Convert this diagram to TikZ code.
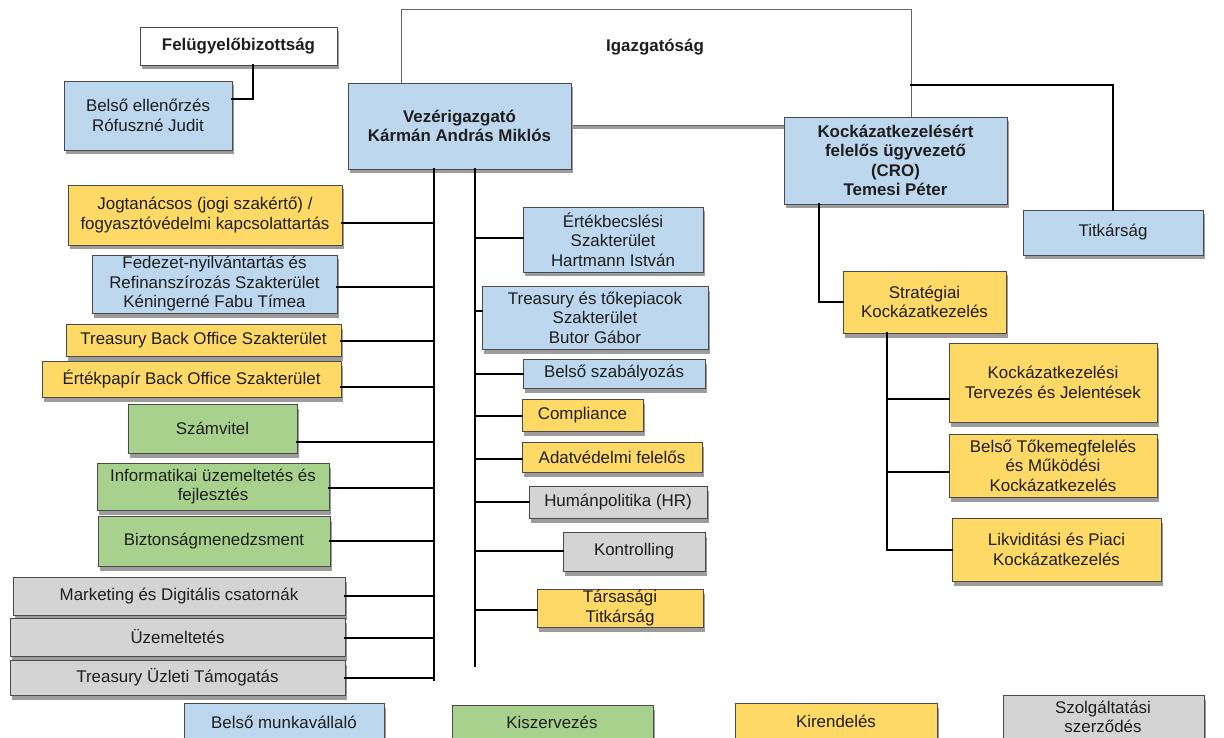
\documentclass[tikz,border=0pt]{standalone}
\usepackage{fontspec}
\setmainfont{Liberation Sans}
\definecolor{cblue}{HTML}{BDD7EE}
\definecolor{cyel}{HTML}{FFD966}
\definecolor{cgrn}{HTML}{A9D18E}
\definecolor{cgry}{HTML}{D4D4D4}
\definecolor{cedge}{HTML}{4A4A4A}
\definecolor{cshad}{HTML}{9C9C9C}
\definecolor{ctext}{HTML}{1E1E1E}
\tikzset{
  bx/.style={draw=cedge, line width=0.8pt, inner sep=0pt, outer sep=0pt},
  txt/.style={align=center, inner sep=0pt, text=ctext, font=\fontsize{16.9}{19.5}\selectfont},
  conn/.style={draw=black, line width=2pt, line cap=rect},
}
% name, fill, x1, y1, x2, y2, text
\newcommand\orgbox[7]{%
  \fill[cshad] ({#3+1.5},{#4+4.5}) rectangle ({#5+1.5},{#6+4.5});
  \node[bx, fill=#2, minimum width={(#5-#3)*1pt}, minimum height={(#6-#4)*1pt}]
     (#1) at ({(#3+#5)/2},{(#4+#6)/2}) {};
  \node[txt] (#1-t) at (#1.center) {#7};
}
\begin{document}
\begin{tikzpicture}[x=1pt,y=-1pt]
\clip (0,0) rectangle (1224,738);
\fill[white] (0,0) rectangle (1224,738);

% Igazgatóság frame
\draw[cshad, line width=3pt] (571,127.5) -- (785,127.5);
\node[draw=black!60, line width=0.9pt, inner sep=0pt, minimum width=510pt, minimum height=116pt]
  (igaz) at (656,67) {};
\node[txt, font=\fontsize{16.9}{19.5}\selectfont\bfseries] (igaz-t) at (655,47) {Igazgatóság};

% top
\orgbox{felu}{white}{140}{27}{337}{65}{\bfseries Felügyelőbizottság}
\orgbox{bell}{cblue}{64}{81}{232}{150}{Belső ellenőrzés\\Rófuszné Judit}
\orgbox{vez}{cblue}{348}{83}{571}{169}{\bfseries Vezérigazgató\\\bfseries Kármán András Miklós}
\orgbox{cro}{cblue}{784}{117}{1007}{204}{\bfseries Kockázatkezelésért\\\bfseries felelős ügyvezető\\\bfseries (CRO)\\\bfseries Temesi Péter}
\orgbox{titk}{cblue}{1023}{210}{1203}{255}{Titkárság}

% risk branch
\orgbox{strat}{cyel}{843}{271}{1006}{333}{Stratégiai\\Kockázatkezelés}
\orgbox{rk1}{cyel}{949}{343}{1157}{422}{Kockázatkezelési\\Tervezés és Jelentések}
\orgbox{rk2}{cyel}{949}{434}{1157}{497}{Belső Tőkemegfelelés\\és Működési\\Kockázatkezelés}
\orgbox{rk3}{cyel}{952}{518}{1161}{581}{Likviditási és Piaci\\Kockázatkezelés}

% left column
\orgbox{jog}{cyel}{68}{185}{342}{245}{Jogtanácsos (jogi szakértő) /\\fogyasztóvédelmi kapcsolattartás}
\orgbox{fed}{cblue}{92}{255}{337}{313}{Fedezet-nyilvántartás és\\Refinanszírozás Szakterület\\Kéningerné Fabu Tímea}
\orgbox{tbo}{cyel}{66}{324}{341}{356}{Treasury Back Office Szakterület}
\orgbox{ertp}{cyel}{42}{361}{341}{397}{Értékpapír Back Office Szakterület}
\orgbox{szam}{cgrn}{128}{404}{297}{453}{Számvitel}
\orgbox{info}{cgrn}{97}{463}{329}{510}{Informatikai üzemeltetés és\\fejlesztés}
\orgbox{bizt}{cgrn}{98}{516}{330}{566}{Biztonságmenedzsment}
\orgbox{mark}{cgry}{13}{577}{345}{615}{Marketing és Digitális csatornák}
\orgbox{uzem}{cgry}{10}{618}{345}{656}{Üzemeltetés}
\orgbox{tuz}{cgry}{10}{660}{345}{695}{Treasury Üzleti Támogatás}

% right column
\orgbox{ertb}{cblue}{523}{207}{703}{272}{Értékbecslési\\Szakterület\\Hartmann István}
\orgbox{treas}{cblue}{482}{286}{708}{349}{Treasury és tőkepiacok\\Szakterület\\Butor Gábor}
\orgbox{bszab}{cblue}{523}{359}{705}{388}{Belső szabályozás}
\orgbox{comp}{cyel}{522}{399}{643}{431}{Compliance}
\orgbox{adat}{cyel}{522}{442}{702}{472}{Adatvédelmi felelős}
\orgbox{hum}{cgry}{529}{486}{707}{518}{Humánpolitika (HR)}
\orgbox{kont}{cgry}{563}{532}{705}{571}{Kontrolling}
\orgbox{tars}{cyel}{537}{589}{703}{627}{Társasági\\Titkárság}

% legend
\orgbox{lg1}{cblue}{184}{703}{384}{760}{}
\orgbox{lg2}{cgrn}{452}{705}{653}{760}{}
\orgbox{lg3}{cyel}{735}{703}{937}{760}{}
\orgbox{lg4}{cgry}{1003}{695}{1204}{760}{}
\node[txt] (lg1-l) at (284,722) {Belső munkavállaló};
\node[txt] (lg2-l) at (552,722) {Kiszervezés};
\node[txt] (lg3-l) at (836,721) {Kirendelés};
\node[txt] (lg4-l) at (1103,717) {Szolgáltatási\\szerződés};

% connectors
\draw[conn] (felu.south -| 253,0) |- (bell.east |- 0,99);
\draw[conn] (igaz.east |- 0,85) -| (titk.north);
\draw[conn] (cro.south -| 819,0) |- (strat.west);
\coordinate (sv) at (887,333);
\draw[conn] (sv) -- (sv |- 0,550) -- (rk3.west |- 0,550);
\draw[conn] (sv |- 0,399) -- (rk1.west |- 0,399);
\draw[conn] (sv |- 0,472) -- (rk2.west |- 0,472);

\coordinate (tL) at (434,680);
\coordinate (tR) at (475,666);
\draw[conn] (vez.south -| tL) -- (tL);
\draw[conn] (vez.south -| tR) -- (tR);
\foreach \n/\yy in {jog/223,fed/287,tbo/341,ertp/387,szam/442,info/488,bizt/541,mark/596,uzem/638,tuz/678}
  \draw[conn] (\n.east |- 0,\yy) -- (tL |- 0,\yy);
\foreach \n/\yy in {ertb/238,treas/311,bszab/374,comp/416,adat/459,hum/502,kont/551,tars/610}
  \draw[conn] (tR |- 0,\yy) -- (\n.west |- 0,\yy);
\end{tikzpicture}
\end{document}
